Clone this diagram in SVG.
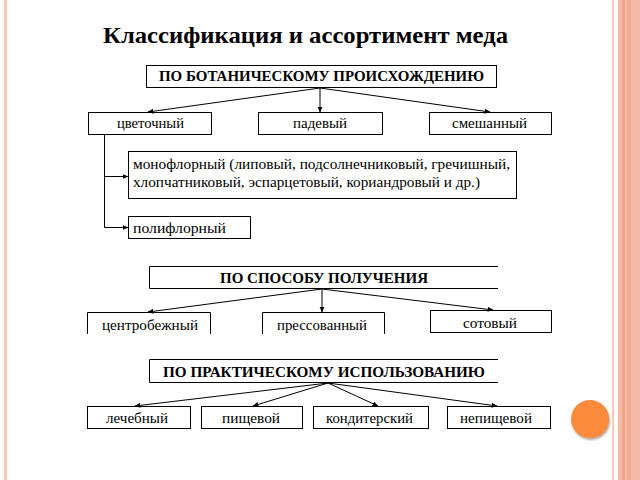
<svg xmlns="http://www.w3.org/2000/svg" width="640" height="480" viewBox="0 0 640 480">
<style>
.b{fill:#fff;stroke:#000;stroke-width:1}
.o{fill:none;stroke:#000;stroke-width:1}
.t{font-family:"Liberation Serif","Times New Roman",serif;font-size:14.5px;fill:#000}
.h{font-family:"Liberation Serif","Times New Roman",serif;font-size:14px;font-weight:bold;fill:#000}
.c{stroke:#000;stroke-width:1;fill:none;marker-end:url(#ah)}
</style>
<defs>
<marker id="ah" viewBox="0 0 6 6" refX="5.5" refY="3" markerWidth="6" markerHeight="6" orient="auto" markerUnits="userSpaceOnUse">
<path d="M0,0.5 L6,3 L0,5.5 Z" fill="#000"/>
</marker>
<filter id="sh" x="-30%" y="-30%" width="160%" height="160%"><feDropShadow dx="1" dy="2" stdDeviation="1" flood-color="#8a6a50" flood-opacity="0.6"/></filter>
</defs>
<rect x="0" y="0" width="640" height="480" fill="#fefefe"/>
<rect x="4" y="0" width="3" height="480" fill="#fcc9b6"/>
<rect x="612" y="0" width="2" height="480" fill="#f9cbbb"/>
<rect x="618" y="0" width="22" height="480" fill="#f5baa5"/>
<rect x="622" y="0" width="3" height="480" fill="#f0a58a"/>
<rect x="627" y="0" width="4" height="480" fill="#f2ab93"/>
<circle cx="590" cy="419" r="19" fill="#fb8a3c" filter="url(#sh)"/>

<text x="103" y="43" class="h" style="font-size:23px" textLength="405" lengthAdjust="spacingAndGlyphs">Классификация и ассортимент меда</text>

<g id="n-botan"><rect x="146.5" y="65.5" width="350" height="22" class="b"/><text x="159" y="81" class="h" textLength="325" lengthAdjust="spacingAndGlyphs">ПО БОТАНИЧЕСКОМУ  ПРОИСХОЖДЕНИЮ</text></g>
<g id="n-cvet"><rect x="88.5" y="112.5" width="123" height="22" class="b"/><text x="117" y="128" class="t" textLength="67" lengthAdjust="spacingAndGlyphs">цветочный</text></g>
<g id="n-padev"><rect x="258.5" y="112.5" width="124" height="22" class="b"/><text x="293" y="128" class="t" textLength="54" lengthAdjust="spacingAndGlyphs">падевый</text></g>
<g id="n-smesh"><rect x="429.5" y="112.5" width="122" height="22" class="b"/><text x="452" y="128" class="t" textLength="75" lengthAdjust="spacingAndGlyphs">смешанный</text></g>
<g id="n-mono"><rect x="128.5" y="151.5" width="388" height="47" class="b"/><text x="133" y="169" class="t" textLength="377" lengthAdjust="spacingAndGlyphs">монофлорный (липовый, подсолнечниковый, гречишный,</text><text x="133" y="187" class="t" textLength="347" lengthAdjust="spacingAndGlyphs">хлопчатниковый, эспарцетовый, кориандровый и др.)</text></g>
<g id="n-poli"><rect x="128.5" y="216.5" width="122" height="22" class="b"/><text x="133" y="233" class="t" textLength="93" lengthAdjust="spacingAndGlyphs">полифлорный</text></g>

<g id="n-sposob"><path d="M498,266.5 H149.5 V288.5 H498" class="o"/><text x="220" y="283" class="h" textLength="208" lengthAdjust="spacingAndGlyphs">ПО СПОСОБУ  ПОЛУЧЕНИЯ</text></g>
<g id="n-centr"><path d="M87.5,334 V312.5 H210.5 V334" class="o"/><text x="102" y="330" class="t" textLength="96" lengthAdjust="spacingAndGlyphs">центробежный</text></g>
<g id="n-press"><path d="M262.5,334 V312.5 H384.5 V334" class="o"/><text x="277" y="330" class="t" textLength="90" lengthAdjust="spacingAndGlyphs">прессованный</text></g>
<g id="n-sot"><rect x="430.5" y="310.5" width="121" height="22" class="b"/><text x="463" y="328" class="t" textLength="54" lengthAdjust="spacingAndGlyphs">сотовый</text></g>

<g id="n-prakt"><path d="M498,359.5 H149.5 V382.5 H498" class="o"/><text x="163" y="377" class="h" textLength="322" lengthAdjust="spacingAndGlyphs">ПО ПРАКТИЧЕСКОМУ  ИСПОЛЬЗОВАНИЮ</text></g>
<g id="n-lech"><rect x="87.5" y="406.5" width="103" height="22" class="b"/><text x="106" y="423" class="t" textLength="62" lengthAdjust="spacingAndGlyphs">лечебный</text></g>
<g id="n-pish"><rect x="201.5" y="406.5" width="101" height="22" class="b"/><text x="222" y="423" class="t" textLength="58" lengthAdjust="spacingAndGlyphs">пищевой</text></g>
<g id="n-kond"><rect x="313.5" y="406.5" width="115" height="22" class="b"/><text x="326" y="423" class="t" textLength="87" lengthAdjust="spacingAndGlyphs">кондитерский</text></g>
<g id="n-nepish"><rect x="447.5" y="406.5" width="103" height="22" class="b"/><text x="460" y="423" class="t" textLength="72" lengthAdjust="spacingAndGlyphs">непищевой</text></g>

<g id="connectors">
<line x1="320" y1="88" x2="148" y2="112" class="c"/>
<line x1="320" y1="88" x2="320" y2="112" class="c"/>
<line x1="320" y1="88" x2="490" y2="112" class="c"/>
<path d="M104.5,135 V227.5 H128" class="c"/>
<line x1="104.5" y1="176.5" x2="128" y2="176.5" class="c"/>
<line x1="322" y1="289" x2="148" y2="312" class="c"/>
<line x1="322" y1="289" x2="322" y2="312" class="c"/>
<line x1="322" y1="289" x2="493" y2="310" class="c"/>
<line x1="328" y1="383" x2="135" y2="406" class="c"/>
<line x1="328" y1="383" x2="253" y2="406" class="c"/>
<line x1="328" y1="383" x2="378" y2="406" class="c"/>
<line x1="328" y1="383" x2="497" y2="406" class="c"/>
</g>
</svg>
